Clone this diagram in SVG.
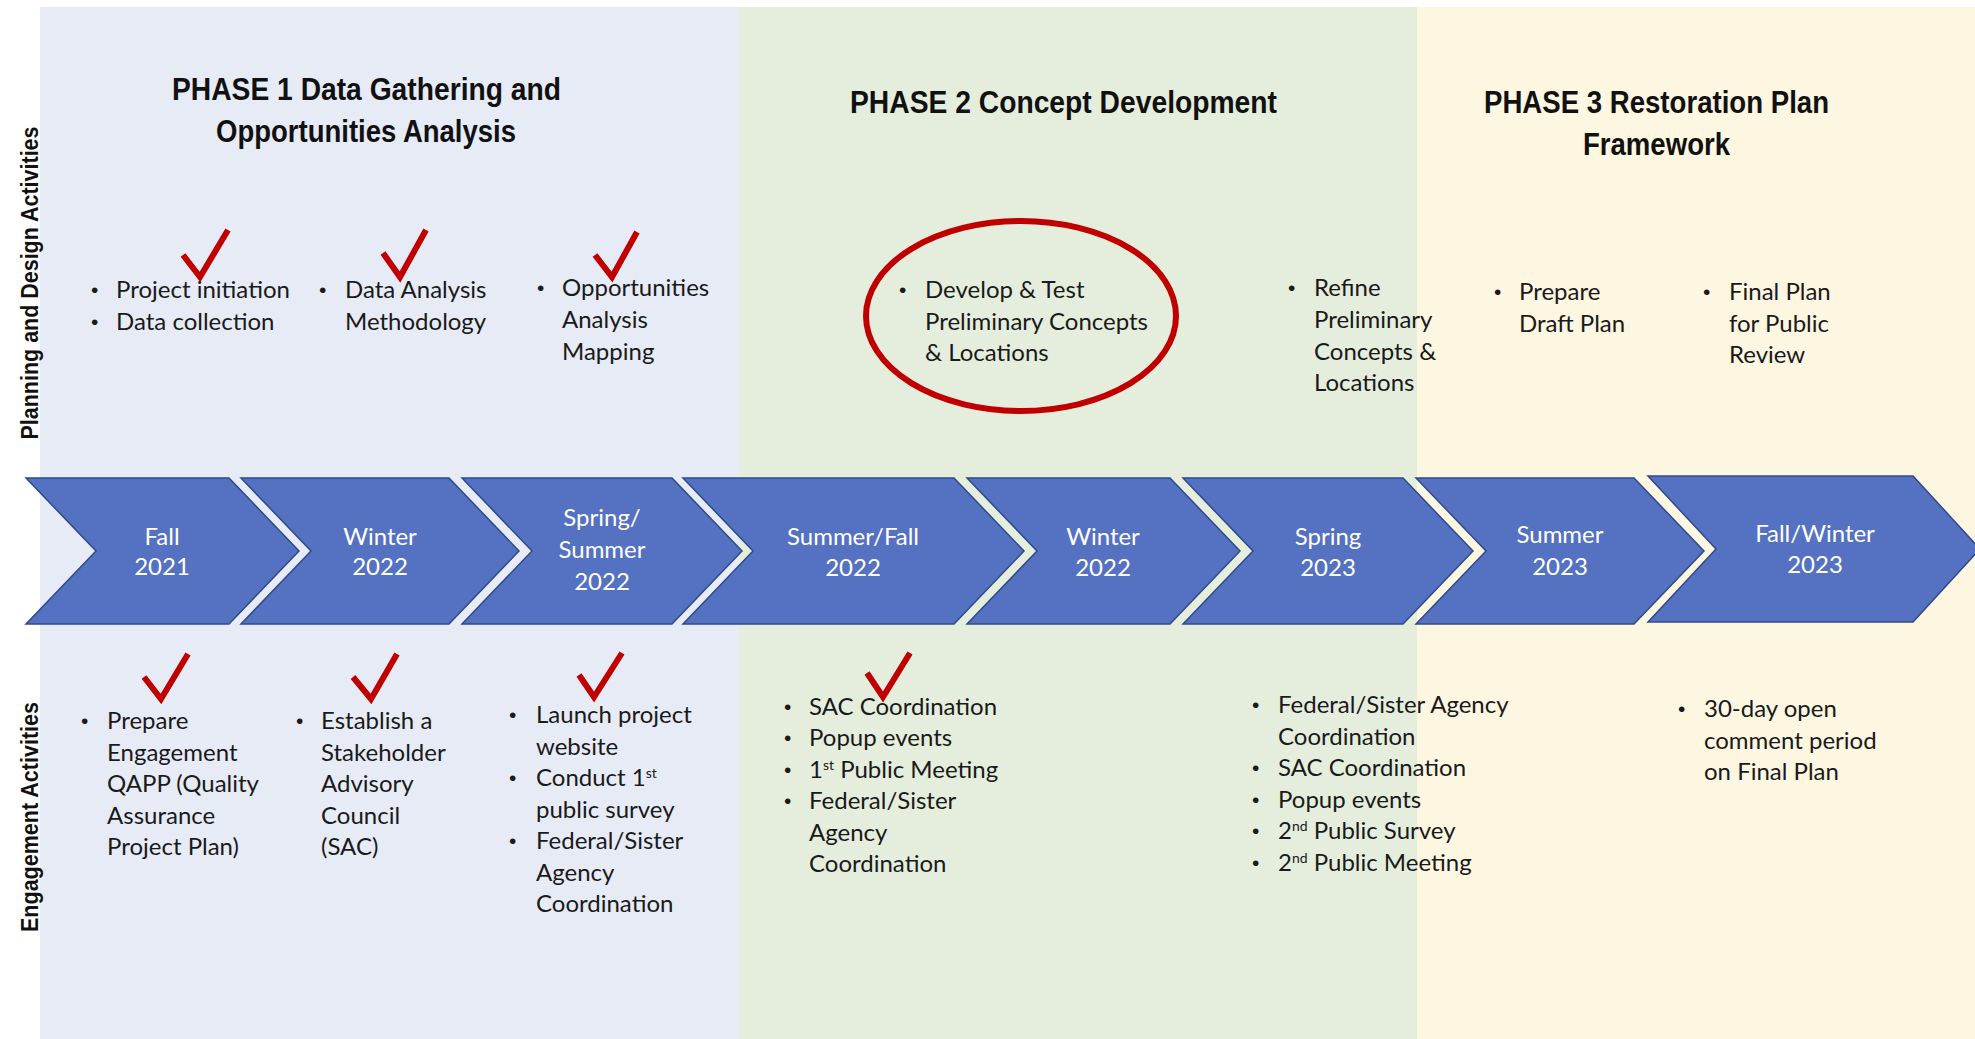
<svg xmlns="http://www.w3.org/2000/svg" width="1975" height="1039" viewBox="0 0 1975 1039">
<style>
.title{font-family:"Liberation Sans",Arial,sans-serif;font-weight:bold;font-size:32px;fill:#111;}
.side{font-family:"Liberation Sans",Arial,sans-serif;font-weight:bold;font-size:23px;fill:#111;}
.body{font-family:Lato,"Open Sans",sans-serif;font-size:24px;fill:#1a1a1a;}
.bul{font-family:"Liberation Sans",Arial,sans-serif;font-size:21px;fill:#1a1a1a;}
.lbl{font-family:Lato,"Open Sans",sans-serif;font-size:24px;fill:#fff;text-anchor:middle;}
.chev{fill:#5571C2;stroke:#2F4A8A;stroke-width:1.5;}
.check{fill:none;stroke:#C00000;stroke-width:6;stroke-linejoin:miter;stroke-linecap:butt;}
.sup{font-size:14px;}
</style>
<rect x="0" y="0" width="1975" height="1039" fill="#ffffff"/>
<g id="panels">
<rect x="40" y="7" width="699" height="1032" fill="#E7EBF6"/>
<rect x="739" y="7" width="678" height="1032" fill="#E5EEDD"/>
<rect x="1417" y="7" width="558" height="1032" fill="#FDF6E1"/>
</g>
<g id="side-labels">
<text class="side" transform="translate(38,283) rotate(-90)" text-anchor="middle" textLength="313" lengthAdjust="spacingAndGlyphs">Planning and Design Activities</text>
<text class="side" transform="translate(38,817) rotate(-90)" text-anchor="middle" textLength="230" lengthAdjust="spacingAndGlyphs">Engagement Activities</text>
</g>
<g id="phase-titles">
<text class="title" x="172" y="100" textLength="389" lengthAdjust="spacingAndGlyphs">PHASE 1  Data Gathering and</text>
<text class="title" x="216" y="142" textLength="300" lengthAdjust="spacingAndGlyphs">Opportunities Analysis</text>
<text class="title" x="850" y="113" textLength="427" lengthAdjust="spacingAndGlyphs">PHASE 2  Concept Development</text>
<text class="title" x="1484" y="113" textLength="345" lengthAdjust="spacingAndGlyphs">PHASE 3 Restoration Plan</text>
<text class="title" x="1583" y="155" textLength="147" lengthAdjust="spacingAndGlyphs">Framework</text>
</g>
<g id="timeline">
<g id="chev-fall-2021"><path class="chev" d="M26,478 L229,478 L299,551 L229,624 L26,624 L96,551 Z"/><text class="lbl" x="162" y="545">Fall</text><text class="lbl" x="162" y="575">2021</text></g>
<g id="chev-winter-2022"><path class="chev" d="M241,478 L449,478 L519,551 L449,624 L241,624 L311,551 Z"/><text class="lbl" x="380" y="545">Winter</text><text class="lbl" x="380" y="575">2022</text></g>
<g id="chev-springsummer-2022"><path class="chev" d="M462,478 L672,478 L742,551 L672,624 L462,624 L532,551 Z"/><text class="lbl" x="602" y="526">Spring/</text><text class="lbl" x="602" y="558">Summer</text><text class="lbl" x="602" y="590">2022</text></g>
<g id="chev-summerfall-2022"><path class="chev" d="M683,478 L954,478 L1024,551 L954,624 L683,624 L753,551 Z"/><text class="lbl" x="853" y="545">Summer/Fall</text><text class="lbl" x="853" y="576">2022</text></g>
<g id="chev-winter-2022b"><path class="chev" d="M967,478 L1170,478 L1240,551 L1170,624 L967,624 L1037,551 Z"/><text class="lbl" x="1103" y="545">Winter</text><text class="lbl" x="1103" y="576">2022</text></g>
<g id="chev-spring-2023"><path class="chev" d="M1183,478 L1403,478 L1473,551 L1403,624 L1183,624 L1253,551 Z"/><text class="lbl" x="1328" y="545">Spring</text><text class="lbl" x="1328" y="576">2023</text></g>
<g id="chev-summer-2023"><path class="chev" d="M1416,478 L1634,478 L1704,551 L1634,624 L1416,624 L1486,551 Z"/><text class="lbl" x="1560" y="543">Summer</text><text class="lbl" x="1560" y="575">2023</text></g>
<g id="chev-fallwinter-2023"><path class="chev" d="M1648,476 L1913,476 L1980,549 L1913,622 L1648,622 L1716,549 Z"/><text class="lbl" x="1815" y="542">Fall/Winter</text><text class="lbl" x="1815" y="573">2023</text></g>
</g>
<g id="planning">
<g id="plan-1"><text class="bul" x="91" y="297">•</text><text class="body" x="116" y="298">Project initiation</text><text class="bul" x="91" y="329">•</text><text class="body" x="116" y="330">Data collection</text><polyline class="check" points="183,255 200,277 228,230"/></g>
<g id="plan-2"><text class="bul" x="319" y="297">•</text><text class="body" x="345" y="298">Data Analysis</text><text class="body" x="345" y="330">Methodology</text><polyline class="check" points="383,253 400,277 426,230"/></g>
<g id="plan-3"><text class="bul" x="537" y="295">•</text><text class="body" x="562" y="296">Opportunities</text><text class="body" x="562" y="328">Analysis</text><text class="body" x="562" y="360">Mapping</text><polyline class="check" points="595,255 612,277 637,232"/></g>
<g id="plan-4"><ellipse cx="1021" cy="316" rx="155" ry="95" fill="none" stroke="#C00000" stroke-width="6"/><text class="bul" x="899" y="297">•</text><text class="body" x="925" y="298">Develop &amp; Test</text><text class="body" x="925" y="330">Preliminary Concepts</text><text class="body" x="925" y="361">&amp; Locations</text></g>
<g id="plan-5"><text class="bul" x="1288" y="295">•</text><text class="body" x="1314" y="296">Refine</text><text class="body" x="1314" y="328">Preliminary</text><text class="body" x="1314" y="360">Concepts &amp;</text><text class="body" x="1314" y="391">Locations</text></g>
<g id="plan-6"><text class="bul" x="1494" y="299">•</text><text class="body" x="1519" y="300">Prepare</text><text class="body" x="1519" y="332">Draft Plan</text></g>
<g id="plan-7"><text class="bul" x="1703" y="299">•</text><text class="body" x="1729" y="300">Final Plan</text><text class="body" x="1729" y="332">for Public</text><text class="body" x="1729" y="363">Review</text></g>
</g>
<g id="engagement">
<g id="eng-1"><polyline class="check" points="144,677 161,699 188,654"/><text class="bul" x="81" y="728">•</text><text class="body" x="107" y="729">Prepare</text><text class="body" x="107" y="761">Engagement</text><text class="body" x="107" y="792">QAPP (Quality</text><text class="body" x="107" y="824">Assurance</text><text class="body" x="107" y="855">Project Plan)</text></g>
<g id="eng-2"><polyline class="check" points="353,677 371,699 397,654"/><text class="bul" x="296" y="728">•</text><text class="body" x="321" y="729">Establish a</text><text class="body" x="321" y="761">Stakeholder</text><text class="body" x="321" y="792">Advisory</text><text class="body" x="321" y="824">Council</text><text class="body" x="321" y="855">(SAC)</text></g>
<g id="eng-3"><polyline class="check" points="579,675 594,697 622,653"/><text class="bul" x="509" y="722">•</text><text class="body" x="536" y="723">Launch project</text><text class="body" x="536" y="755">website</text><text class="bul" x="509" y="785">•</text><text class="body" x="536" y="786">Conduct 1<tspan class="sup" baseline-shift="super">st</tspan></text><text class="body" x="536" y="818">public survey</text><text class="bul" x="509" y="848">•</text><text class="body" x="536" y="849">Federal/Sister</text><text class="body" x="536" y="881">Agency</text><text class="body" x="536" y="912">Coordination</text></g>
<g id="eng-4"><polyline class="check" points="867,673 883,697 910,653"/><text class="bul" x="784" y="714">•</text><text class="body" x="809" y="715">SAC Coordination</text><text class="bul" x="784" y="745">•</text><text class="body" x="809" y="746">Popup events</text><text class="bul" x="784" y="777">•</text><text class="body" x="809" y="778">1<tspan class="sup" baseline-shift="super">st</tspan> Public Meeting</text><text class="bul" x="784" y="808">•</text><text class="body" x="809" y="809">Federal/Sister</text><text class="body" x="809" y="841">Agency</text><text class="body" x="809" y="872">Coordination</text></g>
<g id="eng-5"><text class="bul" x="1252" y="712">•</text><text class="body" x="1278" y="713">Federal/Sister Agency</text><text class="body" x="1278" y="745">Coordination</text><text class="bul" x="1252" y="775">•</text><text class="body" x="1278" y="776">SAC Coordination</text><text class="bul" x="1252" y="807">•</text><text class="body" x="1278" y="808">Popup events</text><text class="bul" x="1252" y="838">•</text><text class="body" x="1278" y="839">2<tspan class="sup" baseline-shift="super">nd</tspan> Public Survey</text><text class="bul" x="1252" y="870">•</text><text class="body" x="1278" y="871">2<tspan class="sup" baseline-shift="super">nd</tspan> Public Meeting</text></g>
<g id="eng-6"><text class="bul" x="1678" y="716">•</text><text class="body" x="1704" y="717">30-day open</text><text class="body" x="1704" y="749">comment period</text><text class="body" x="1704" y="780">on Final Plan</text></g>
</g>
<g id="connectors"/>
</svg>
